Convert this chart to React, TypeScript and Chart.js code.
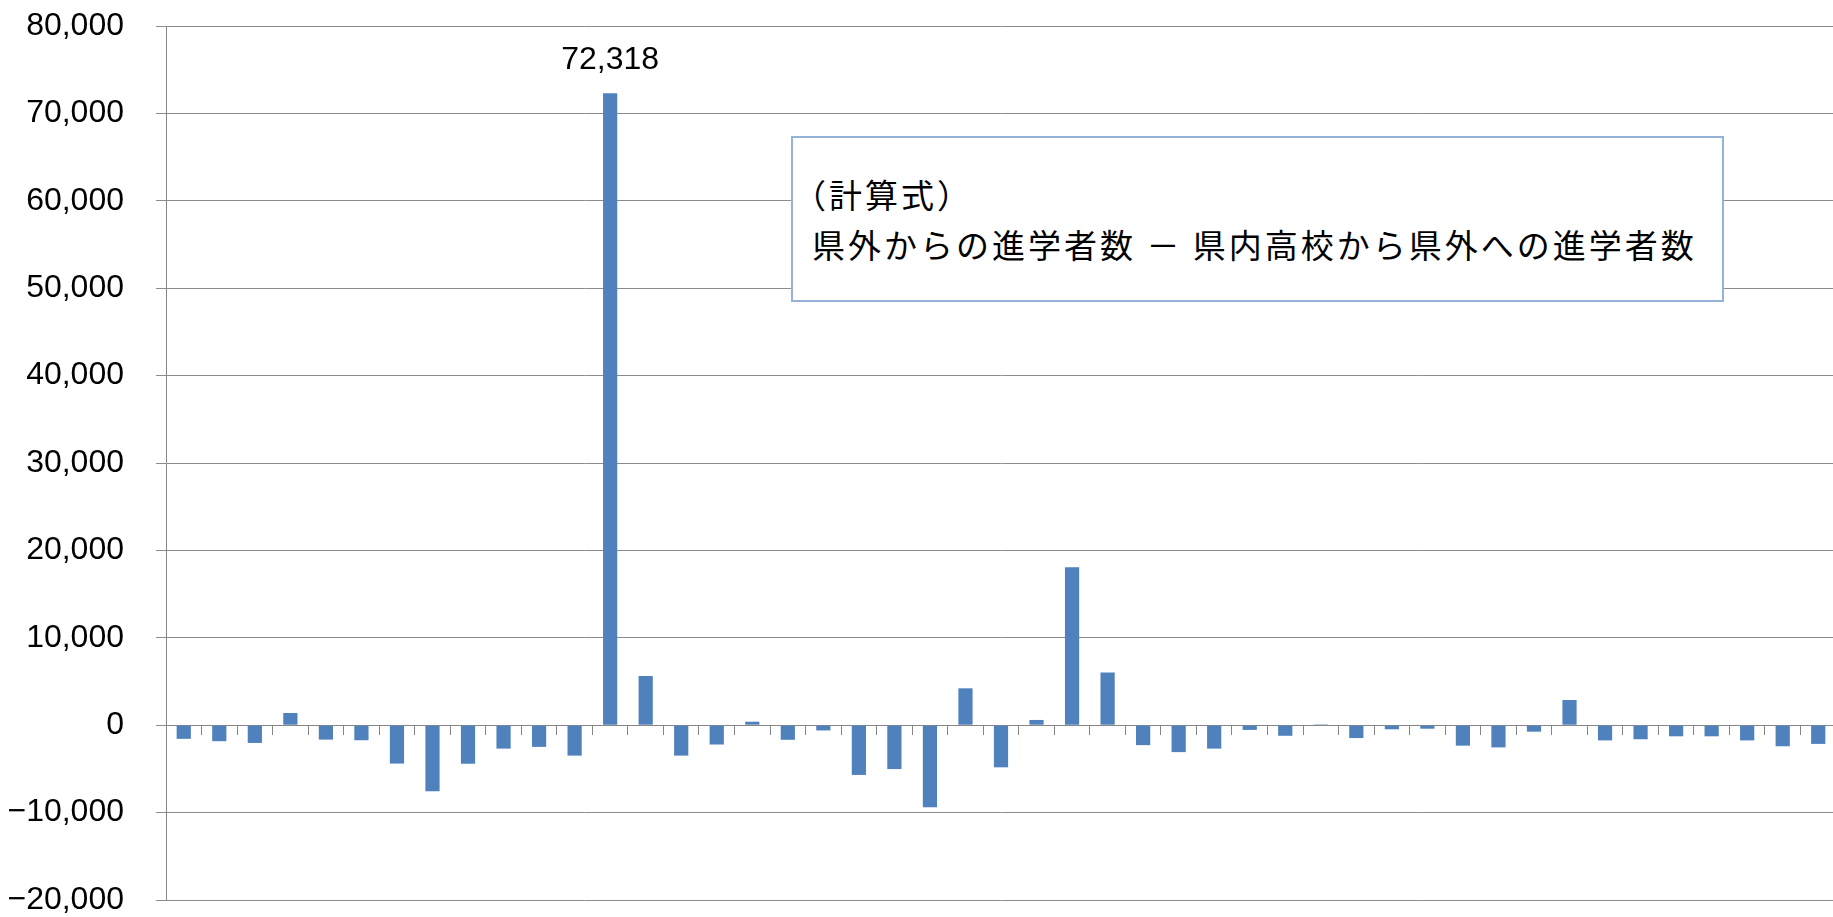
import React, { useEffect, useRef } from "react";
import { Chart, registerables } from "chart.js";

Chart.register(...registerables);

// 47 prefectures (axis labels are not shown in the original chart)
const prefectures = [
  "北海道", "青森", "岩手", "宮城", "秋田", "山形", "福島", "茨城", "栃木", "群馬",
  "埼玉", "千葉", "東京", "神奈川", "新潟", "富山", "石川", "福井", "山梨", "長野",
  "岐阜", "静岡", "愛知", "三重", "滋賀", "京都", "大阪", "兵庫", "奈良", "和歌山",
  "鳥取", "島根", "岡山", "広島", "山口", "徳島", "香川", "愛媛", "高知", "福岡",
  "佐賀", "長崎", "熊本", "大分", "宮崎", "鹿児島", "沖縄",
];

// 県外からの進学者数 − 県内高校から県外への進学者数
const netInflow = [
  -1560, -1830, -2030, 1400, -1650, -1720, -4390, -7570, -4410, -2680,
  -2480, -3480, 72318, 5630, -3480, -2210, 400, -1670, -600, -5690,
  -5020, -9380, 4220, -4820, 600, 18080, 6030, -2280, -3080, -2680,
  -540, -1210, 100, -1470, -470, -400, -2340, -2540, -740, 2880,
  -1740, -1610, -1270, -1270, -1740, -2410, -2140,
];

const Y_MIN = -20000;
const Y_MAX = 80000;
const Y_STEP = 10000;

const labelledIndex = 12; // 東京 — the only bar with a data label

const noteTitle = "（計算式）";
const noteFormula = "県外からの進学者数 － 県内高校から県外への進学者数";

const NUM_FONT = '"Liberation Sans", Arial, sans-serif';
const JP_FONT = '"Noto Sans CJK JP", "Noto Sans", sans-serif';

function fmt(v: number): string {
  const s = Math.abs(v).toLocaleString("en-US");
  return v < 0 ? "\u2212" + s : s;
}

const valueLabelPlugin = {
  id: "valueLabel",
  afterDatasetsDraw(chart: any) {
    const meta = chart.getDatasetMeta(0);
    const el = meta.data[labelledIndex];
    if (!el) return;
    const ctx = chart.ctx;
    ctx.save();
    ctx.font = `32px ${NUM_FONT}`;
    ctx.fillStyle = "#000000";
    ctx.textAlign = "center";
    ctx.textBaseline = "alphabetic";
    ctx.fillText(fmt(netInflow[labelledIndex]), el.x, el.y - 24);
    ctx.restore();
  },
};

export default function App() {
  const canvasRef = useRef<HTMLCanvasElement | null>(null);

  useEffect(() => {
    const canvas = canvasRef.current;
    if (!canvas) return;
    const chart = new Chart(canvas, {
      type: "bar",
      data: {
        labels: prefectures,
        datasets: [
          {
            data: netInflow,
            backgroundColor: "#4F81BD",
            borderWidth: 0,
            barPercentage: 0.4,
            categoryPercentage: 1,
          },
        ],
      },
      options: {
        animation: false,
        responsive: false,
        devicePixelRatio: 1,
        layout: { padding: { left: 0, right: 4, top: 26, bottom: 40 } },
        plugins: {
          legend: { display: false },
          tooltip: { enabled: false },
        },
        scales: {
          x: {
            position: { y: 0 } as any,
            ticks: { display: false },
            grid: {
              display: true,
              drawOnChartArea: false,
              drawTicks: true,
              tickLength: 9,
              color: "#868686",
              offset: true,
            },
            border: { display: true, color: "#868686", width: 1 },
          },
          y: {
            min: Y_MIN,
            max: Y_MAX,
            ticks: {
              stepSize: Y_STEP,
              color: "#000000",
              padding: 32,
              font: { family: NUM_FONT, size: 32 },
              callback: (v: any) => fmt(Number(v)),
            },
            grid: {
              color: "#8c8c8c",
              lineWidth: 1,
              drawTicks: true,
              tickLength: 10,
            },
            border: { display: true, color: "#868686", width: 1 },
            afterFit: (scale: any) => {
              scale.width = 166;
              scale.paddingTop = 0;
              scale.paddingBottom = 0;
            },
          },
        },
      },
      plugins: [valueLabelPlugin],
    });
    return () => chart.destroy();
  }, []);

  const noteText = {
    position: "absolute" as const,
    fontFamily: JP_FONT,
    fontSize: 33,
    lineHeight: "36px",
    letterSpacing: "3px",
    color: "#000000",
    whiteSpace: "nowrap" as const,
  };

  return (
    <div
      style={{
        position: "fixed",
        left: 0,
        top: 0,
        width: 1833,
        height: 917,
        overflow: "hidden",
        background: "#ffffff",
      }}
    >
      <canvas
        ref={canvasRef}
        width={1840}
        height={940}
        style={{ position: "absolute", left: 0, top: 0, width: 1840, height: 940 }}
      />
      <div
        style={{
          position: "absolute",
          left: 791,
          top: 136,
          width: 933,
          height: 166,
          boxSizing: "border-box",
          border: "2px solid #95B3D7",
          background: "#ffffff",
        }}
      />
      <div style={{ ...noteText, left: 793, top: 176 }}>{noteTitle}</div>
      <div style={{ ...noteText, left: 812, top: 226 }}>{noteFormula}</div>
    </div>
  );
}
